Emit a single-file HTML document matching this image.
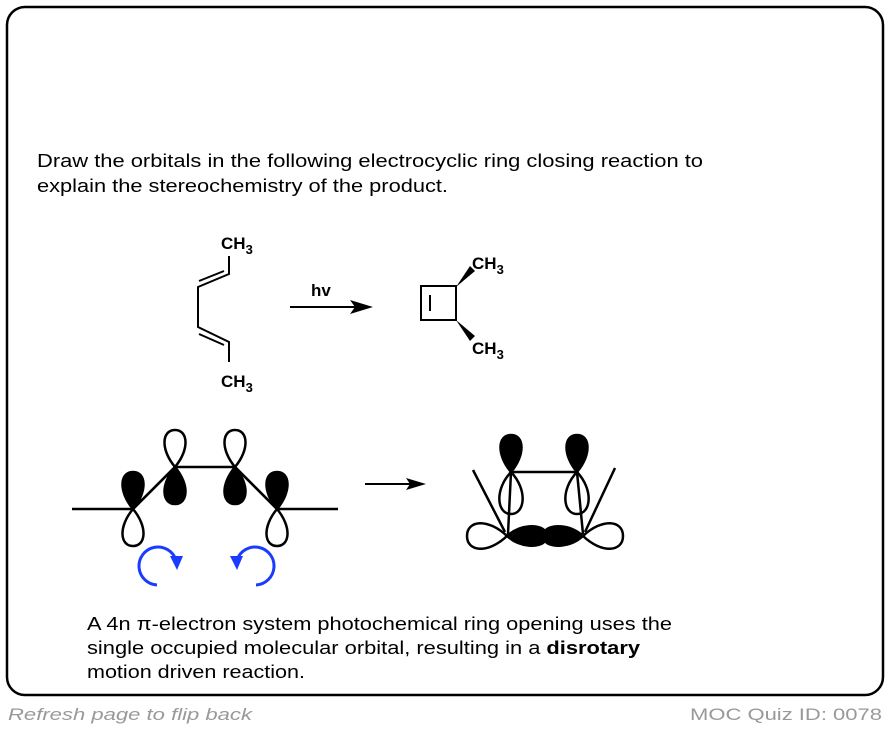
<!DOCTYPE html>
<html><head><meta charset="utf-8"><style>body{margin:0;background:#fff}svg{display:block}</style></head><body>
<svg width="890" height="730" viewBox="0 0 890 730" xmlns="http://www.w3.org/2000/svg" font-family="Liberation Sans, sans-serif">
<defs>
<path id="lo" d="M0 0 C-15 -18 -13 -37 0 -37 C13 -37 15 -18 0 0 Z"/>
</defs>
<rect x="7" y="7" width="876" height="688" rx="18" fill="#fff" stroke="#000" stroke-width="2.5"/>
<text x="37" y="167" font-size="18" textLength="666" lengthAdjust="spacingAndGlyphs">Draw the orbitals in the following electrocyclic ring closing reaction to</text>
<text x="37" y="192" font-size="18" textLength="411" lengthAdjust="spacingAndGlyphs">explain the stereochemistry of the product.</text>

<g font-weight="bold" font-size="17">
<text x="221" y="249">CH<tspan font-size="13" dy="5">3</tspan></text>
<text x="221" y="387">CH<tspan font-size="13" dy="5">3</tspan></text>
<text x="311" y="296">hv</text>
<text x="472" y="269">CH<tspan font-size="13" dy="5">3</tspan></text>
<text x="472" y="354">CH<tspan font-size="13" dy="5">3</tspan></text>
</g>
<g stroke="#000" stroke-width="2" fill="none">
<path d="M229 256 V274 L198 287 V327 L229 342 V362"/>
<path d="M224 271 L199 281 M224 345 L199 334"/>
<path d="M290 307 H355"/>
<rect x="421" y="286" width="35" height="34"/>
<path d="M430 295 V311"/>
</g>
<path d="M350 300 L373 307 L350 314 L355 307 Z"/>
<path d="M456 287 L470 266 L475 271 Z"/>
<path d="M456 320 L475 336 L470 341 Z"/>

<g stroke="#000" stroke-width="2.5">
<path d="M72 509 H133 L175 467 H235 L277 509 H338" fill="none"/>
<use href="#lo" x="133" y="509" fill="#000"/>
<use href="#lo" x="133" y="509" transform="rotate(180 133 509)" fill="#fff"/>
<use href="#lo" x="175" y="467" fill="#fff"/>
<use href="#lo" x="175" y="467" transform="rotate(180 175 467)" fill="#000"/>
<use href="#lo" x="235" y="467" fill="#fff"/>
<use href="#lo" x="235" y="467" transform="rotate(180 235 467)" fill="#000"/>
<use href="#lo" x="277" y="509" fill="#000"/>
<use href="#lo" x="277" y="509" transform="rotate(180 277 509)" fill="#fff"/>
</g>
<path d="M133 509 L175 467 M235 467 L277 509" stroke="#000" stroke-width="2.5"/>
<g stroke="#1a3cff" stroke-width="3" fill="none">
<path d="M157 585 A19 19 0 1 1 176 560"/>
<path d="M256 585 A19 19 0 1 0 237 560"/>
</g>
<path d="M170 556 L183 556 L177 570 Z" fill="#1a3cff"/>
<path d="M230 556 L243 556 L237 570 Z" fill="#1a3cff"/>

<path d="M365 484 H410" stroke="#000" stroke-width="2"/>
<path d="M406 478 L426 484 L406 490 L410 484 Z"/>

<g stroke="#000" stroke-width="2.5">
<path d="M473 470 L505 532 M615 468 L585 532 M511 472 H577" fill="none"/>
<use href="#lo" x="511" y="472" fill="#000"/>
<use href="#lo" x="577" y="472" fill="#000"/>
<path d="M511 472 C494 490 497 514 511 514 C525 514 528 490 511 472 Z" fill="none"/>
<path d="M577 472 C560 490 563 514 577 514 C591 514 594 490 577 472 Z" fill="none"/>
<path d="M511 472 L508 534 M577 472 L583 534" fill="none"/>
<path d="M507 536 C488 518 467 520 467 536 C467 552 488 554 507 536 Z" fill="#fff"/>
<path d="M583 536 C602 518 623 520 623 536 C623 552 602 554 583 536 Z" fill="#fff"/>
<path d="M507 536 C520 524 540 524 545 531 C550 524 570 524 583 536 C570 548 550 548 545 541 C540 548 520 548 507 536 Z" fill="#000"/>
</g>

<text x="87" y="630" font-size="18" textLength="585" lengthAdjust="spacingAndGlyphs">A 4n π-electron system photochemical ring opening uses the</text>
<text x="87" y="654" font-size="18" textLength="553" lengthAdjust="spacingAndGlyphs">single occupied molecular orbital, resulting in a <tspan font-weight="bold">disrotary</tspan></text>
<text x="87" y="678" font-size="18" textLength="218" lengthAdjust="spacingAndGlyphs">motion driven reaction.</text>
<text x="8" y="720" font-size="17" font-style="italic" fill="#999" textLength="244" lengthAdjust="spacingAndGlyphs">Refresh page to flip back</text>
<text x="690" y="720" font-size="17" fill="#999" textLength="192" lengthAdjust="spacingAndGlyphs">MOC Quiz ID: 0078</text>
</svg>
</body></html>
